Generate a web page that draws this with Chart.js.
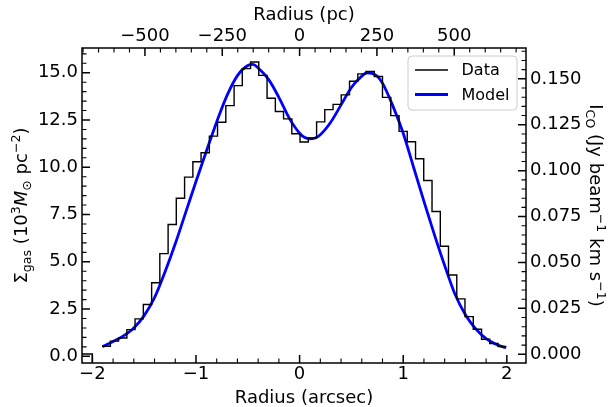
<!DOCTYPE html>
<html><head><meta charset="utf-8">
<script src="https://cdn.jsdelivr.net/npm/chart.js@4"></script>
<style>html,body{margin:0;padding:0;background:#fff;}canvas{display:block;}</style>
</head><body>
<canvas id="c" width="608" height="407"></canvas>
<script>
// ---- data ----
const histEdges = [-1.906,-1.826,-1.747,-1.667,-1.588,-1.508,-1.428,-1.349,-1.269,-1.190,
  -1.110,-1.030,-0.951,-0.871,-0.792,-0.712,-0.632,-0.553,-0.473,-0.394,
  -0.314,-0.234,-0.155,-0.075,0.004,0.084,0.164,0.243,0.323,0.402,
  0.482,0.562,0.641,0.721,0.800,0.880,0.960,1.039,1.119,1.198,
  1.278,1.358,1.437,1.517,1.596,1.676,1.756,1.835,1.915,1.994];
const histSigma = [0.53,0.80,0.97,1.41,1.98,2.74,3.89,5.43,6.97,8.36,
  9.48,10.29,10.77,11.65,12.38,13.26,14.32,15.22,15.57,14.86,
  13.65,12.95,12.56,11.77,11.34,11.55,12.40,13.05,13.33,13.83,
  14.55,14.94,15.07,14.80,13.70,12.73,11.90,11.35,10.45,9.30,
  7.66,5.82,4.30,3.04,2.10,1.43,0.90,0.68,0.52];
const stubR = [-2.3,-2.0];
const stubSigma = [0.12,-1.0];
const modelR = [-1.903,-1.80,-1.70,-1.60,-1.50,-1.40,-1.30,-1.20,-1.10,-1.00,-0.90,-0.80,-0.70,-0.60,-0.50,-0.45,-0.40,-0.30,-0.20,-0.10,
  0.00,0.05,0.10,0.15,0.20,0.30,0.40,0.50,0.60,0.65,0.70,0.75,0.80,0.90,1.00,1.10,1.20,1.30,1.40,1.50,1.60,1.70,1.80,1.90,1.993];
const modelSigma = [0.50,0.78,1.08,1.50,2.15,3.10,4.45,5.95,7.60,9.25,10.85,12.40,13.80,14.85,15.38,15.44,15.25,14.65,13.70,12.60,
  11.80,11.57,11.50,11.55,11.72,12.38,13.30,14.22,14.82,15.00,14.97,14.82,14.45,13.25,11.80,10.00,8.20,6.45,4.80,3.28,2.20,1.45,0.93,0.62,0.45];
const arcsecTicks = [-2,-1,0,1,2];
const pcTicks = [-500,-250,0,250,500];
const sigmaTicks = [0,2.5,5,7.5,10,12.5,15];
const icoTicks = [0,0.025,0.05,0.075,0.1,0.125,0.15];
const legendLabels = ['Data','Model'];
const PC_PER_ARCSEC = 335;
const X_MIN = -2.1, X_MAX = 2.185;
const Y_MIN = -0.355, Y_MAX = 16.31;
const ICO_MIN = -0.00475, ICO_MAX = 0.1668;

// ---- styling ----
const FONT = "'DejaVu Sans', sans-serif";
const tickFont = {family: FONT, size: 18};
const minus = v => (v < 0 ? '\u2212' + Math.abs(v) : String(v));
const xy = (xs, ys) => xs.map((x, i) => ({x, y: ys[Math.min(i, ys.length - 1)]}));

function minors(scale, step, majors) {
  const out = [];
  for (let k = Math.ceil(scale.min / step - 1e-9); k * step <= scale.max + 1e-9; k++) {
    const v = k * step;
    if (!majors.some(m => Math.abs(m - v) < step * 1e-3)) out.push(v);
  }
  return out;
}

function drawRich(ctx, parts, x, y, angle) {
  ctx.save();
  ctx.translate(x, y); ctx.rotate(angle);
  let w = 0;
  parts.forEach(p => { ctx.font = (p.it ? 'italic ' : '') + p.s + 'px ' + FONT; p.w = ctx.measureText(p.t).width; w += p.w; });
  let cx = -w / 2;
  ctx.textBaseline = 'alphabetic'; ctx.textAlign = 'left'; ctx.fillStyle = '#000';
  parts.forEach(p => { ctx.font = (p.it ? 'italic ' : '') + p.s + 'px ' + FONT; ctx.fillText(p.t, cx, p.dy || 0); cx += p.w; });
  ctx.restore();
}

const B = 18, S = 12.6;
const leftTitle = [{t:'\u03A3',s:B},{t:'gas',s:S,dy:4},{t:' (10',s:B},{t:'3',s:S,dy:-7},{t:'M',s:B,it:true},{t:'\u2299',s:S,dy:4},{t:' pc',s:B},{t:'\u22122',s:S,dy:-7},{t:')',s:B}];
const rightTitle = [{t:'I',s:B},{t:'CO',s:S,dy:4},{t:' (Jy beam',s:B},{t:'\u22121',s:S,dy:-7},{t:' km s',s:B},{t:'\u22121',s:S,dy:-7},{t:')',s:B}];

const framePlugin = {
  id: 'frame',
  afterDatasetsDraw(chart) {
    const {ctx, chartArea: a, scales} = chart;
    ctx.save();
    ctx.strokeStyle = '#000';
    const tk = (scale, vals, len, lw, side) => {
      ctx.lineWidth = lw; ctx.beginPath();
      vals.forEach(v => {
        const p = scale.getPixelForValue(v);
        if (side === 'b') { ctx.moveTo(p, a.bottom); ctx.lineTo(p, a.bottom - len); }
        if (side === 't') { ctx.moveTo(p, a.top); ctx.lineTo(p, a.top + len); }
        if (side === 'l') { ctx.moveTo(a.left, p); ctx.lineTo(a.left + len, p); }
        if (side === 'r') { ctx.moveTo(a.right, p); ctx.lineTo(a.right - len, p); }
      });
      ctx.stroke();
    };
    const MJ = 8, MN = 4.5, WJ = 1.5, WN = 1.1;
    tk(scales.x, arcsecTicks, MJ, WJ, 'b'); tk(scales.x, minors(scales.x, 0.2, arcsecTicks), MN, WN, 'b');
    tk(scales.x2, pcTicks, MJ, WJ, 't'); tk(scales.x2, minors(scales.x2, 50, pcTicks), MN, WN, 't');
    tk(scales.y, sigmaTicks, MJ, WJ, 'l'); tk(scales.y, minors(scales.y, 0.5, sigmaTicks), MN, WN, 'l');
    tk(scales.y2, icoTicks, MJ, WJ, 'r'); tk(scales.y2, minors(scales.y2, 0.005, icoTicks), MN, WN, 'r');
    ctx.lineWidth = 1.5;
    ctx.strokeRect(a.left, a.top, a.right - a.left, a.bottom - a.top);

    // legend
    const bw = 109, bh = 54, bx = a.right - 9 - bw, by = a.top + 8;
    ctx.beginPath(); ctx.roundRect(bx, by, bw, bh, 4);
    ctx.fillStyle = 'rgba(255,255,255,0.8)'; ctx.fill();
    ctx.strokeStyle = '#cccccc'; ctx.lineWidth = 1; ctx.stroke();
    const ds = chart.data.datasets;
    const entries = [ds[0], ds[2]];
    entries.forEach((d, i) => {
      const y = by + 14 + i * 24.5;
      ctx.beginPath(); ctx.strokeStyle = d.borderColor; ctx.lineWidth = d.borderWidth;
      ctx.moveTo(bx + 7, y); ctx.lineTo(bx + 40, y); ctx.stroke();
      ctx.fillStyle = '#000'; ctx.font = '16px ' + FONT; ctx.textBaseline = 'middle'; ctx.textAlign = 'left';
      ctx.fillText(legendLabels[i], bx + 53.5, y + 1);
    });

    drawRich(ctx, leftTitle, 26.5, (a.top + a.bottom) / 2, -Math.PI / 2);
    drawRich(ctx, rightTitle, 590, (a.top + a.bottom) / 2, Math.PI / 2);
    ctx.restore();
  }
};

const setTicks = arr => s => { s.ticks = arr.map(v => ({value: v})); };

new Chart(document.getElementById('c'), {
  type: 'line',
  data: {datasets: [
    {label: legendLabels[0], data: xy(histEdges, histSigma), borderColor: '#000000', borderWidth: 1.4, stepped: 'before', pointRadius: 0, fill: false, xAxisID: 'x', yAxisID: 'y'},
    {label: 'stub', data: xy(stubR, stubSigma), borderColor: '#000000', borderWidth: 1.4, stepped: 'before', pointRadius: 0, fill: false, xAxisID: 'x', yAxisID: 'y'},
    {label: legendLabels[1], data: xy(modelR, modelSigma), borderColor: '#0000ff', borderWidth: 2.8, cubicInterpolationMode: 'monotone', pointRadius: 0, fill: false, xAxisID: 'x', yAxisID: 'y'}
  ]},
  options: {
    responsive: false, animation: false, devicePixelRatio: 1,
    layout: {padding: 0},
    plugins: {legend: {display: false}, tooltip: {enabled: false}},
    scales: {
      x: {type: 'linear', position: 'bottom', min: X_MIN, max: X_MAX, afterBuildTicks: setTicks(arcsecTicks),
          ticks: {callback: v => minus(v), font: tickFont, color: '#000', padding: 1, maxRotation: 0, autoSkip: false},
          grid: {display: false, drawTicks: false}, border: {display: false},
          title: {display: true, text: 'Radius (arcsec)', font: {family: FONT, size: 18}, color: '#000', padding: {top: 0, bottom: -2}},
          afterFit: s => { s.height = 44; }},
      x2: {type: 'linear', position: 'top', min: X_MIN * PC_PER_ARCSEC, max: X_MAX * PC_PER_ARCSEC, afterBuildTicks: setTicks(pcTicks),
          ticks: {callback: v => minus(v), font: tickFont, color: '#000', padding: 0.5, maxRotation: 0, autoSkip: false},
          grid: {display: false, drawTicks: false}, border: {display: false},
          title: {display: true, text: 'Radius (pc)', font: {family: FONT, size: 18}, color: '#000', padding: {top: 4.5, bottom: 0}},
          afterFit: s => { s.height = 48; }},
      y: {type: 'linear', position: 'left', min: Y_MIN, max: Y_MAX, afterBuildTicks: setTicks(sigmaTicks),
          ticks: {callback: v => v.toFixed(1), font: tickFont, color: '#000', padding: 4, autoSkip: false},
          grid: {display: false, drawTicks: false}, border: {display: false},
          afterFit: s => { s.width = 82; }},
      y2: {type: 'linear', position: 'right', min: ICO_MIN, max: ICO_MAX, afterBuildTicks: setTicks(icoTicks),
          ticks: {callback: v => v.toFixed(3), font: tickFont, color: '#000', padding: 4, autoSkip: false},
          grid: {display: false, drawTicks: false}, border: {display: false},
          afterFit: s => { s.width = 82; }}
    }
  },
  plugins: [framePlugin]
});
</script>
</body></html>
